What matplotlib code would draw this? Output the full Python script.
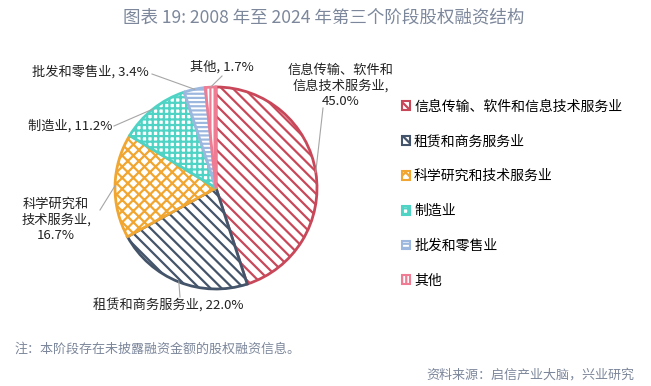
import matplotlib
matplotlib.use("Agg")
import matplotlib.pyplot as plt
from matplotlib.patches import Patch
import numpy as np

plt.rcParams['font.family'] = ['Noto Sans CJK SC', 'DejaVu Sans']
plt.rcParams['hatch.linewidth'] = 1.6

categories = ['信息传输、软件和信息技术服务业', '租赁和商务服务业', '科学研究和技术服务业',
              '制造业', '批发和零售业', '其他']
values = [45.0, 22.0, 16.7, 11.2, 3.4, 1.7]
label_texts = ['信息传输、软件和\n信息技术服务业,\n45.0%', '租赁和商务服务业, 22.0%',
               '科学研究和\n技术服务业,\n16.7%', '制造业, 11.2%', '批发和零售业, 3.4%', '其他, 1.7%']
colors = ['#C8485A', '#44546A', '#F0A630', '#4FD3C4', '#9CB8DE', '#F07C93']
hatches = ['\\\\\\', '\\\\\\', 'xxx', '+++', '----', '||||']

W, H = 651, 386
fig = plt.figure(figsize=(W / 100, H / 100), dpi=100)
cx, cy, R = 216, 188, 101
ax = fig.add_axes([(cx - R) / W, (H - cy - R) / H, 2 * R / W, 2 * R / H])

wedges, _ = ax.pie(values, startangle=90, counterclock=False, radius=1,
                   wedgeprops=dict(facecolor='white', linewidth=2))
for w, c, h in zip(wedges, colors, hatches):
    w.set_edgecolor(c)
    w.set_facecolor('white')
    w.set_hatch(h)
ax.set_xlim(-1, 1)
ax.set_ylim(-1, 1)
ax.axis('off')

def px(x, y):
    return ((x - cx) / R, (cy - y) / R)

label_pos = [(341, 86), (168, 306), (56, 220), (70, 126), (90, 72), (222, 67)]
line_start = [(323, 108), (180, 297), (100, 210), (114, 126), (152, 74), (222, 76)]

cum = 0
for i, v in enumerate(values):
    mid = 90 - (cum + v / 2) * 3.6
    cum += v
    ex, ey = np.cos(np.radians(mid)), np.sin(np.radians(mid))
    sx, sy = px(*line_start[i])
    ax.plot([sx, ex], [sy, ey], color='#A6A6A6', lw=0.8, clip_on=False)
    lx, ly = px(*label_pos[i])
    ax.text(lx, ly, label_texts[i], ha='center', va='center', fontsize=9.5,
            color='#222222', linespacing=1.25, clip_on=False)

handles = [Patch(facecolor='white', edgecolor=c, hatch=h, linewidth=1.5)
           for c, h in zip(colors, hatches)]
leg = fig.legend(handles, categories, loc='upper left', bbox_to_anchor=(396 / W, 1 - 94 / H),
                 frameon=False, fontsize=10, handlelength=0.6, handleheight=0.6,
                 handletextpad=0.3, labelspacing=1.5, borderaxespad=0)

fig.text(324 / W, 1 - 17 / H, '图表 19: 2008 年至 2024 年第三个阶段股权融资结构',
         ha='center', va='center', fontsize=12.6, fontweight='medium', color='#7C879B')
fig.text(14 / W, 1 - 349 / H, '注：本阶段存在未披露融资金额的股权融资信息。',
         ha='left', va='center', fontsize=9.4, color='#7C879B')
fig.text(634 / W, 1 - 375 / H, '资料来源：启信产业大脑，兴业研究',
         ha='right', va='center', fontsize=9.4, color='#7C879B')

fig.savefig('out.png', dpi=100)
